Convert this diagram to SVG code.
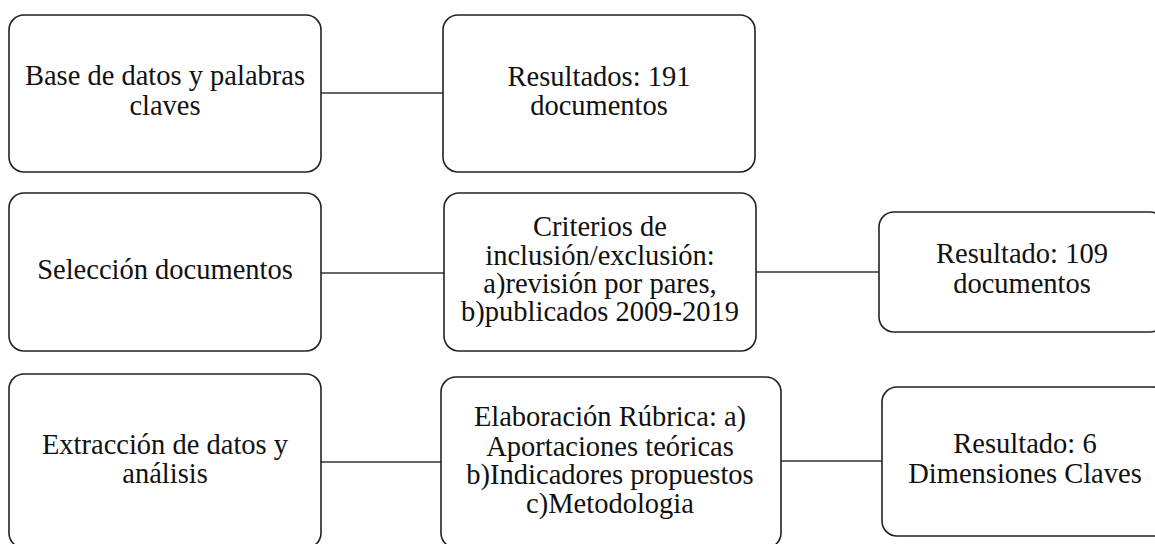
<svg xmlns="http://www.w3.org/2000/svg" width="1155" height="544" viewBox="0 0 1155 544">
<style>
.box{fill:#fff;stroke:#222;stroke-width:1.6}
.t{font-family:"Liberation Serif","Times New Roman",serif;font-size:28.5px;fill:#111;text-anchor:middle}
.c{stroke:#333;stroke-width:1.6;fill:none}
</style>
<rect width="1155" height="544" fill="#fff"/>
<g id="connectors">
<line class="c" x1="321" y1="93" x2="443" y2="93"/>
<line class="c" x1="321" y1="273" x2="444" y2="273"/>
<line class="c" x1="756" y1="272" x2="879" y2="272"/>
<line class="c" x1="321" y1="462" x2="441" y2="462"/>
<line class="c" x1="781" y1="461" x2="882" y2="461"/>
</g>
<g id="n1">
<rect class="box" x="9" y="15" width="312" height="157" rx="15"/>
<text class="t" x="165" y="85">Base de datos y palabras</text>
<text class="t" x="165" y="115">claves</text>
</g>
<g id="n2">
<rect class="box" x="443" y="15" width="312" height="157" rx="15"/>
<text class="t" x="599" y="86">Resultados: 191</text>
<text class="t" x="599" y="115">documentos</text>
</g>
<g id="n3">
<rect class="box" x="9" y="193" width="312" height="158" rx="15"/>
<text class="t" x="165" y="279">Selección documentos</text>
</g>
<g id="n4">
<rect class="box" x="444" y="193" width="312" height="158" rx="15"/>
<text class="t" x="600" y="236">Criterios de</text>
<text class="t" x="600" y="265">inclusión/exclusión:</text>
<text class="t" x="600" y="293">a)revisión por pares,</text>
<text class="t" x="600" y="321">b)publicados 2009-2019</text>
</g>
<g id="n5">
<rect class="box" x="879" y="212" width="286" height="120" rx="15"/>
<text class="t" x="1022" y="263">Resultado: 109</text>
<text class="t" x="1022" y="293">documentos</text>
</g>
<g id="n6">
<rect class="box" x="9" y="374" width="312" height="174" rx="15"/>
<text class="t" x="165" y="454">Extracción de datos y</text>
<text class="t" x="165" y="483">análisis</text>
</g>
<g id="n7">
<rect class="box" x="441" y="377" width="340" height="171" rx="15"/>
<text class="t" x="610" y="426">Elaboración Rúbrica: a)</text>
<text class="t" x="610" y="456">Aportaciones teóricas</text>
<text class="t" x="610" y="484">b)Indicadores propuestos</text>
<text class="t" x="610" y="513">c)Metodologia</text>
</g>
<g id="n8">
<rect class="box" x="882" y="387" width="286" height="149" rx="15"/>
<text class="t" x="1025" y="453">Resultado: 6</text>
<text class="t" x="1025" y="483">Dimensiones Claves</text>
</g>
</svg>
